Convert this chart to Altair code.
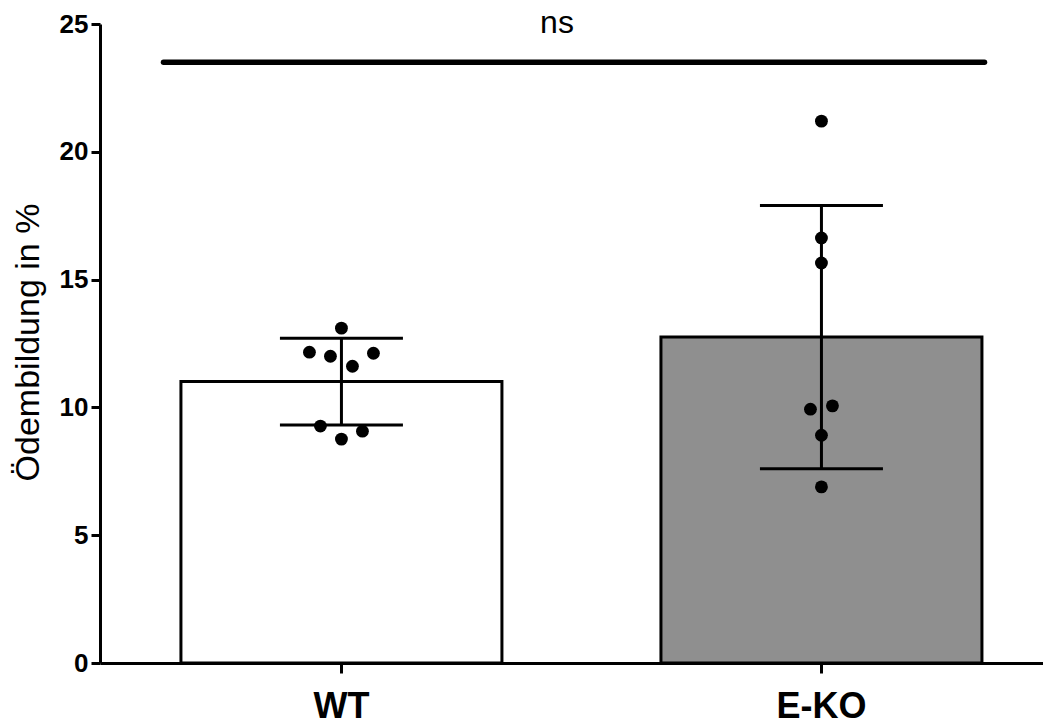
import altair as alt
import pandas as pd

# ---- data ----
groups = ["WT", "E-KO"]
wt_values = [13.10, 12.16, 12.00, 12.12, 11.61, 9.27, 8.76, 9.07]
eko_values = [21.20, 16.63, 15.65, 9.93, 10.06, 8.91, 6.89]
y_ticks = [0, 5, 10, 15, 20, 25]
y_title = "Ödembildung in %"
sig_label = "ns"
sig_level = [23.5]

# ---- layout: horizontal scatter of the dots (pixels) ----
wt_jitter = [0, -32, -11, 32, 11, -21, 0, 21]
eko_jitter = [0, 0, 0, -11, 11, 0, 0]

df = pd.DataFrame({
    "group": ["WT"] * len(wt_values) + ["E-KO"] * len(eko_values),
    "value": wt_values + eko_values,
    "jitter": wt_jitter + eko_jitter,
})
sig_df = pd.DataFrame({"y": sig_level, "label": [sig_label]})

FONT = "Liberation Sans"

x_scale = alt.Scale(domain=groups, paddingInner=0.33125, paddingOuter=0.1479, align=0.57)
y_scale = alt.Scale(domain=[0, 25], nice=False, zero=True)

x_axis = alt.Axis(
    title=None, labelFont=FONT, labelFontSize=36, labelFontWeight="bold",
    labelColor="black", labelPadding=16, labelAngle=0,
    domainColor="black", domainWidth=3, tickColor="black", tickWidth=3, tickSize=10,
    grid=False,
)
y_axis = alt.Axis(
    title=y_title, values=y_ticks, grid=False,
    labelFont=FONT, labelFontSize=26, labelFontWeight="bold", labelColor="black",
    labelPadding=3, domainColor="black", domainWidth=3,
    tickColor="black", tickWidth=3, tickSize=9,
    titleFont=FONT, titleFontSize=34, titleFontWeight="normal", titleColor="black",
    titleAngle=270, titleBaseline="alphabetic", titleAlign="center",
    titleX=-62, titleY=318,
)

X = alt.X("group:N", scale=x_scale, axis=x_axis)

base = alt.Chart(df)

bars = base.mark_bar(stroke="black", strokeWidth=3, width=321).encode(
    x=X,
    y=alt.Y("mean(value):Q", scale=y_scale, axis=y_axis),
    fill=alt.Fill("group:N", scale=alt.Scale(domain=groups, range=["white", "#8f8f8f"]), legend=None),
)

stats = base.transform_aggregate(
    mean="mean(value)", sd="stdev(value)", groupby=["group"]
).transform_calculate(lo="datum.mean - datum.sd", hi="datum.mean + datum.sd")

err = stats.mark_rule(color="black", strokeWidth=3).encode(
    x=X, y=alt.Y("lo:Q", scale=y_scale, axis=y_axis), y2="hi:Q"
)
cap_lo = stats.mark_tick(color="black", thickness=3, size=123, opacity=1).encode(
    x=X, y=alt.Y("lo:Q", scale=y_scale, axis=y_axis)
)
cap_hi = stats.mark_tick(color="black", thickness=3, size=123, opacity=1).encode(
    x=X, y=alt.Y("hi:Q", scale=y_scale, axis=y_axis)
)

points = base.mark_circle(size=165, color="black", opacity=1).encode(
    x=X,
    xOffset=alt.XOffset("jitter:Q", scale=alt.Scale(domain=[-160.5, 160.5])),
    y=alt.Y("value:Q", scale=y_scale, axis=y_axis),
)

sig_line = alt.Chart(sig_df).mark_rule(color="black", strokeWidth=5.5, strokeCap="round").encode(
    x=alt.value(63.5), x2=alt.value(884.5),
    y=alt.Y("y:Q", scale=y_scale, axis=y_axis),
)
sig_text = alt.Chart(sig_df).mark_text(
    font=FONT, fontSize=32, color="black", baseline="alphabetic", align="center"
).encode(
    x=alt.value(457), y=alt.value(9), text="label:N"
)

chart = alt.layer(bars, err, cap_lo, cap_hi, points, sig_line, sig_text).properties(
    width=943, height=639,
    autosize=alt.AutoSizeParams(type="none"),
    padding={"left": 92, "top": 16, "right": 0, "bottom": 60},
    background="white",
).configure_view(strokeWidth=0)

chart.save("out.html", embed_options={"renderer": "svg", "actions": False})
